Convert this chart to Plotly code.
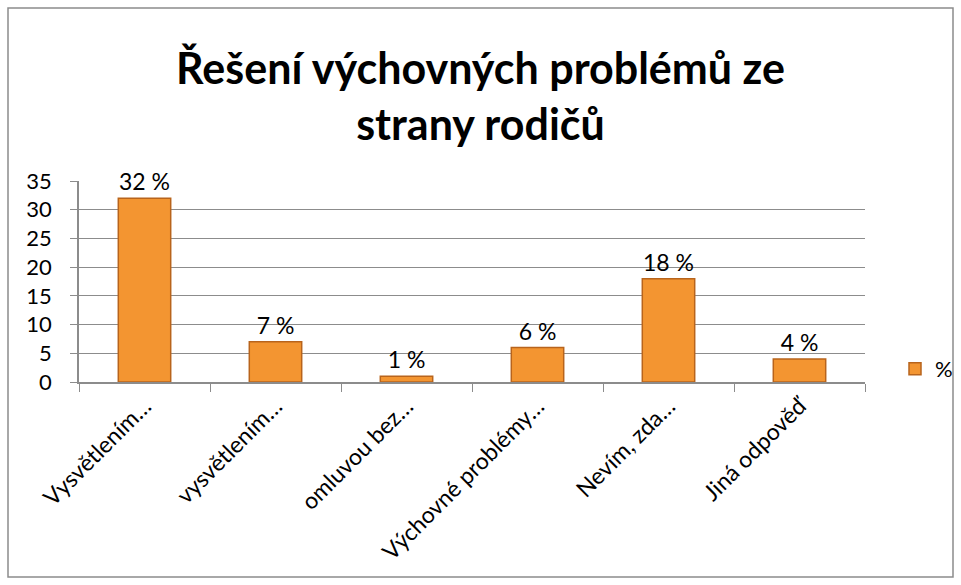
import plotly.graph_objects as go

categories = ["Vysvětlením…", "vysvětlením…", "omluvou bez…", "Výchovné problémy…", "Nevím, zda…", "Jiná odpověď"]
values = [32, 7, 1, 6, 18, 4]
labels = ["32 %", "7 %", "1 %", "6 %", "18 %", "4 %"]
series_name = "%"
y_ticks = [0, 5, 10, 15, 20, 25, 30, 35]

W, H = 961, 585
L, R, T, B = 79, 96, 181, 203
pw, ph = W - L - R, H - T - B

def px_x(x):
    return (x - L) / pw

def px_y(y):
    return (H - B - y) / ph

fig = go.Figure()
fig.add_trace(go.Bar(
    x=categories, y=values, name=series_name,
    text=labels, textposition="outside",
    textfont=dict(size=23, color="black"),
    marker=dict(color="#F39531", line=dict(color="#B8641C", width=1.5)),
    cliponaxis=False,
    showlegend=True,
))

fig.update_layout(
    width=W, height=H,
    margin=dict(l=L, r=R, t=T, b=B, autoexpand=False),
    paper_bgcolor="white", plot_bgcolor="white",
    font=dict(family="Lato, 'Open Sans', sans-serif", color="black"),
    title=dict(text="<b>Řešení výchovných problémů ze<br>strany rodičů</b>",
               x=0.5, xanchor="center", y=1 - 84 / H, yanchor="top",
               font=dict(size=43, color="black")),
    bargap=0.6,
    xaxis=dict(showline=True, linecolor="#8c8c8c", linewidth=1.5, automargin=False,
               ticks="outside", tickson="boundaries", ticklen=8, tickcolor="#8c8c8c",
               tickangle=-45, tickfont=dict(size=23)),
    yaxis=dict(range=[0, 35], tickvals=y_ticks, showgrid=True, gridcolor="#8c8c8c",
               gridwidth=1, showline=True, linecolor="#8c8c8c", linewidth=1.5,
               ticks="outside", ticklen=7, tickcolor="#8c8c8c", automargin=False,
               ticklabelstandoff=14,
               tickfont=dict(size=22), zeroline=False),
    legend=dict(x=px_x(895), y=px_y(369), xanchor="left", yanchor="middle",
                font=dict(size=22), bgcolor="rgba(0,0,0,0)"),
    shapes=[dict(type="rect", xref="paper", yref="paper",
                 x0=px_x(8), x1=px_x(953), y0=px_y(577), y1=px_y(8),
                 line=dict(color="#8c8c8c", width=1.5), fillcolor="rgba(0,0,0,0)")],
)

fig.write_html("out.html", config={"displayModeBar": False},
               post_script="document.body.style.margin='0';document.body.style.overflow='hidden';")
